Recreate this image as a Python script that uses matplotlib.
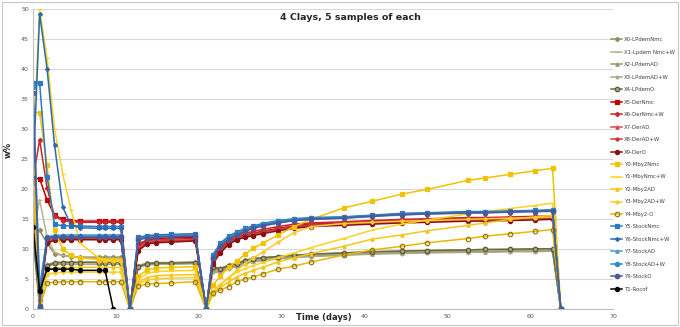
import numpy as np
import matplotlib
matplotlib.use("Agg")
import matplotlib.pyplot as plt
from matplotlib.patches import Rectangle

# sampling times (days); zeros mark the re-wetting steps
days_a = [0, 0.8, 1.7, 2.6, 3.6, 4.6, 5.7, 8.0, 8.7, 9.7, 10.6, 11.7]
days_b = [12.7, 13.8, 14.9, 16.6, 19.6, 20.9]
days_c = [21.7, 22.6, 23.6, 24.6, 25.6, 26.6, 27.7, 29.6, 31.5, 33.6, 37.5,
          40.9, 44.5, 47.6, 52.5, 54.6, 57.6, 60.6, 62.7, 63.7]
days = days_a + days_b + days_c

# --- LPdem (olive) ---
x0 = [13.2, 13.2, 11.0, 9.3, 9.0, 8.8, 8.7, 8.7, 8.7, 8.7, 8.7, 0,
      7.3, 7.7, 7.8, 7.8, 7.9, 0,
      7.1, 6.8, 7.4, 7.7, 8.2, 8.5, 8.6, 8.8, 9.0, 9.2, 9.4, 9.6, 9.7, 9.8, 9.9, 9.9, 10.0, 10.0, 10.1, 0]
x1 = [12.4, 18.3, 12.0, 9.5, 9.0, 8.8, 8.6, 8.5, 8.5, 8.5, 8.5, 0,
      7.2, 7.6, 7.7, 7.7, 7.8, 0,
      6.8, 6.5, 7.2, 7.5, 8.0, 8.3, 8.5, 8.7, 8.9, 9.1, 9.2, 9.4, 9.5, 9.6, 9.7, 9.7, 9.8, 9.8, 9.9, 0]
x2 = [13.0, 1.0, 7.5, 7.8, 7.9, 7.9, 7.9, 7.9, 7.9, 7.9, 7.9, 0,
      7.1, 7.5, 7.6, 7.6, 7.7, 0,
      6.5, 6.3, 7.0, 7.3, 7.8, 8.1, 8.3, 8.5, 8.7, 8.9, 9.1, 9.3, 9.4, 9.5, 9.6, 9.6, 9.7, 9.7, 9.8, 0]
x3 = [12.8, 0.8, 7.2, 7.5, 7.5, 7.5, 7.5, 7.5, 7.5, 7.5, 7.5, 0,
      7.0, 7.4, 7.5, 7.5, 7.6, 0,
      6.3, 6.1, 6.8, 7.1, 7.6, 7.9, 8.1, 8.4, 8.6, 8.8, 9.0, 9.2, 9.3, 9.4, 9.5, 9.5, 9.6, 9.6, 9.7, 0]
x4 = [12.2, 0.3, 7.3, 7.7, 7.8, 7.8, 7.8, 7.8, 7.8, 7.8, 7.8, 0,
      7.1, 7.6, 7.7, 7.7, 7.8, 0,
      7.0, 6.7, 7.3, 7.6, 8.1, 8.4, 8.6, 8.8, 9.0, 9.2, 9.4, 9.6, 9.7, 9.8, 9.9, 10.0, 10.0, 10.1, 10.1, 0]
# --- Der (red) ---
x5 = [21.8, 21.8, 18.2, 15.7, 15.0, 14.8, 14.7, 14.7, 14.7, 14.7, 14.7, 0,
      10.8, 11.6, 11.8, 11.9, 12.0, 0,
      8.2, 9.9, 11.3, 12.0, 12.4, 12.7, 13.0, 13.5, 13.9, 14.2, 14.4, 14.6, 14.8, 14.9, 15.1, 15.1, 15.2, 15.3, 15.4, 0]
x6 = [21.5, 28.3, 20.2, 15.5, 14.8, 14.6, 14.5, 14.5, 14.5, 14.5, 14.5, 0,
      10.5, 11.4, 11.6, 11.7, 11.8, 0,
      8.5, 10.2, 11.6, 12.3, 12.7, 13.0, 13.3, 13.8, 14.2, 14.4, 14.6, 14.8, 15.0, 15.1, 15.3, 15.3, 15.4, 15.5, 15.6, 0]
x7 = [22.0, 2.5, 11.5, 11.9, 12.0, 12.0, 12.0, 12.0, 12.0, 12.0, 12.0, 0,
      10.2, 11.2, 11.5, 11.5, 11.6, 0,
      7.8, 9.6, 11.0, 11.8, 12.2, 12.5, 12.8, 13.3, 13.7, 14.0, 14.2, 14.4, 14.6, 14.7, 14.9, 14.9, 15.0, 15.1, 15.2, 0]
x8 = [21.2, 2.0, 11.3, 11.7, 11.8, 11.8, 11.8, 11.8, 11.8, 11.8, 11.8, 0,
      10.0, 11.0, 11.3, 11.4, 11.5, 0,
      8.0, 9.8, 11.1, 11.9, 12.3, 12.6, 12.9, 13.4, 13.8, 14.1, 14.3, 14.5, 14.7, 14.8, 15.0, 15.0, 15.1, 15.2, 15.3, 0]
x9 = [21.0, 1.5, 11.0, 11.5, 11.6, 11.6, 11.6, 11.6, 11.6, 11.6, 11.6, 0,
      9.8, 10.9, 11.1, 11.2, 11.4, 0,
      7.6, 9.4, 10.8, 11.6, 12.0, 12.3, 12.6, 13.1, 13.5, 13.8, 14.0, 14.2, 14.4, 14.5, 14.7, 14.7, 14.8, 14.9, 15.0, 0]
# --- Mby (yellow) ---
y0 = [32.8, 32.8, 24.0, 13.2, 10.0, 9.0, 8.6, 8.3, 8.2, 8.2, 8.2, 0,
      5.5, 6.6, 6.9, 7.0, 7.1, 0,
      4.0, 5.5, 7.0, 8.0, 9.2, 10.2, 11.0, 12.4, 13.8, 15.0, 16.9, 18.0, 19.2, 20.0, 21.5, 21.9, 22.5, 23.1, 23.5, 0]
y1 = [26.3, 50.0, 41.9, 30.1, 22.5, 16.5, 11.0, 8.5, 8.2, 8.0, 8.0, 0,
      5.0, 6.0, 6.3, 6.4, 6.5, 0,
      3.0, 4.2, 5.3, 6.2, 6.8, 7.3, 7.8, 8.6, 9.4, 10.3, 11.8, 13.2, 14.2, 14.9, 15.9, 16.3, 16.8, 17.3, 17.7, 0]
y2 = [31.1, 1.5, 6.6, 6.9, 7.0, 7.0, 7.0, 7.0, 7.0, 7.0, 7.0, 0,
      4.5, 5.3, 5.6, 5.7, 5.8, 0,
      2.5, 3.6, 4.6, 5.4, 6.0, 6.5, 7.0, 7.9, 8.6, 9.3, 10.5, 11.7, 12.4, 13.1, 14.0, 14.4, 15.0, 15.4, 15.7, 0]
y3 = [22.5, 1.0, 5.8, 6.1, 6.2, 6.2, 6.2, 6.2, 6.2, 6.2, 6.2, 0,
      4.2, 4.9, 5.1, 5.2, 5.3, 0,
      2.8, 4.0, 5.3, 6.5, 7.6, 8.6, 9.5, 11.2, 12.8, 13.8, 14.3, 14.5, 14.7, 14.8, 15.0, 15.1, 15.2, 15.3, 15.4, 0]
y4 = [21.0, 0.2, 4.4, 4.5, 4.6, 4.6, 4.6, 4.6, 4.6, 4.6, 4.6, 0,
      3.9, 4.2, 4.3, 4.4, 4.6, 0,
      2.7, 3.2, 3.8, 4.6, 5.05, 5.4, 5.9, 6.7, 7.2, 7.9, 9.05, 9.9, 10.5, 11.1, 11.8, 12.2, 12.6, 13.0, 13.3, 0]
# --- Stock (blue) ---
y5 = [37.8, 37.8, 22.1, 14.2, 13.9, 13.9, 13.9, 13.8, 13.8, 13.8, 13.8, 0,
      12.0, 12.3, 12.4, 12.5, 12.6, 0,
      9.1, 11.0, 12.2, 12.9, 13.5, 13.9, 14.3, 14.8, 15.1, 15.3, 15.4, 15.7, 16.0, 16.1, 16.3, 16.3, 16.4, 16.5, 16.6, 0]
y6 = [22.0, 49.2, 40.1, 27.4, 17.0, 14.0, 13.6, 13.5, 13.5, 13.5, 13.5, 0,
      11.9, 12.2, 12.3, 12.4, 12.5, 0,
      8.8, 10.8, 12.0, 12.7, 13.3, 13.7, 14.1, 14.6, 14.9, 15.1, 15.3, 15.6, 15.8, 16.0, 16.2, 16.2, 16.3, 16.4, 16.4, 0]
y7 = [37.5, 3.8, 12.0, 12.3, 12.4, 12.4, 12.4, 12.4, 12.4, 12.4, 12.4, 0,
      11.8, 12.1, 12.2, 12.3, 12.4, 0,
      8.6, 10.6, 11.8, 12.5, 13.1, 13.5, 13.9, 14.4, 14.8, 15.0, 15.2, 15.5, 15.7, 15.9, 16.0, 16.1, 16.2, 16.3, 16.3, 0]
y8 = [37.0, 3.0, 12.1, 12.2, 12.2, 12.2, 12.2, 12.2, 12.2, 12.2, 12.2, 0,
      11.7, 12.0, 12.1, 12.2, 12.3, 0,
      8.9, 10.9, 12.1, 12.8, 13.4, 13.8, 14.2, 14.7, 15.0, 15.2, 15.4, 15.6, 15.9, 16.0, 16.2, 16.2, 16.3, 16.4, 16.5, 0]
y9 = [36.1, 0.5, 11.9, 12.0, 12.0, 12.0, 12.0, 12.0, 12.0, 12.0, 12.0, 0,
      11.6, 11.9, 12.0, 12.1, 12.2, 0,
      8.5, 10.5, 11.7, 12.4, 13.0, 13.5, 13.9, 14.4, 14.8, 15.0, 15.2, 15.5, 15.8, 15.9, 16.1, 16.1, 16.2, 16.3, 16.4, 0]
# --- Rocof (black), first period only ---
t1 = [13.8, 3.0, 6.7, 6.7, 6.7, 6.7, 6.5, 6.5, 6.5, 0]

labels = ["X0-LPdemNmc", "X1-Lpdem Nmc+W", "X2-LPdemAD", "X3-LPdemAD+W", "X4-LPdemO",
          "X5-DerNmc", "X6-DerNmc+W", "X7-DerAD", "X8-DerAD+W", "X9-DerO",
          "Y0-Mby2Nmc", "Y1-MbyNmc+W", "Y2-Mby2AD", "Y3-Mby2AD+W", "Y4-Mby2-O",
          "Y5-StockNmc", "Y6-StockNmc+W", "Y7-StockAD", "Y8-StockAD+W", "Y9-StockO",
          "T1-Rocof"]
series = [x0, x1, x2, x3, x4, x5, x6, x7, x8, x9,
          y0, y1, y2, y3, y4, y5, y6, y7, y8, y9, t1]

# (line colour, marker, marker size, marker face, marker edge)
styles = [
    ("#8e8e5c", "D", 2.2, "#8e8e5c", "#8e8e5c"),
    ("#b8b48a", "_", 3.0, "#b8b48a", "#b8b48a"),
    ("#9c9a64", "^", 2.4, "#9c9a64", "#9c9a64"),
    ("#a9a88c", "o", 2.0, "#a9a88c", "#a9a88c"),
    ("#6e6c44", "o", 3.2, "#a8a47a", "#5a5836"),
    ("#c00000", "s", 3.2, "#c00000", "#c00000"),
    ("#c8282d", "D", 2.2, "#c8282d", "#c8282d"),
    ("#dc4848", "^", 2.4, "#dc4848", "#dc4848"),
    ("#c83a3a", "o", 2.2, "#c83a3a", "#c83a3a"),
    ("#8b1010", "o", 3.0, "#8b1010", "#8b1010"),
    ("#f2c200", "s", 3.0, "#f2c200", "#f2c200"),
    ("#ffd21f", "_", 3.0, "#ffd21f", "#ffd21f"),
    ("#f5c61a", "^", 2.4, "#f5c61a", "#f5c61a"),
    ("#f7cc30", "o", 2.2, "#f7cc30", "#f7cc30"),
    ("#e8b800", "o", 3.2, "none", "#9a7a10"),
    ("#2e78c0", "s", 3.2, "#2e78c0", "#2e78c0"),
    ("#2a6aae", "D", 2.0, "#2a6aae", "#2a6aae"),
    ("#4f94d0", "^", 2.4, "#4f94d0", "#4f94d0"),
    ("#2f88c4", "o", 3.0, "#2f88c4", "#2f88c4"),
    ("#4a5a98", "o", 3.2, "#4a5a98", "#4a5a98"),
    ("#000000", "o", 3.0, "#000000", "#000000"),
]

fig = plt.figure(figsize=(6.8, 3.27), dpi=100)
ax = fig.add_axes([0.0485, 0.054, 0.853, 0.9175])

for vals, lab, (col, mk, ms, mfc, mec) in zip(series, labels, styles):
    ax.plot(days[:len(vals)], vals, color=col, lw=1.1, marker=mk, ms=ms,
            mfc=mfc, mec=mec, mew=0.9, label=lab)

ax.set_xlim(0, 70)
ax.set_ylim(0, 50)
ax.set_xticks(range(0, 71, 10))
ax.set_yticks(range(0, 51, 5))
ax.tick_params(labelsize=4.5, colors="#595959", length=0, pad=3)
ax.grid(axis="y", color="#d9d9d9", lw=0.8)
ax.set_axisbelow(True)
for side in ["top", "right"]:
    ax.spines[side].set_visible(False)
for side in ["left", "bottom"]:
    ax.spines[side].set_color("#bfbfbf")
    ax.spines[side].set_linewidth(0.8)

fig.text(0.515, 0.948, "4 Clays, 5 samples of each", fontsize=6.8,
         fontweight="bold", ha="center", va="center", color="#262626")
fig.text(0.476, 0.028, "Time (days)", fontsize=6, fontweight="bold",
         ha="center", va="center", color="#262626")
fig.text(0.012, 0.54, "w%", fontsize=6, fontweight="bold", rotation=90,
         ha="center", va="center", color="#262626")

leg = fig.legend(loc="center left", bbox_to_anchor=(0.895, 0.497), frameon=False,
                 fontsize=3.9, handlelength=2.0, handletextpad=0.4,
                 labelspacing=1.38, borderpad=0)
for txt in leg.get_texts():
    txt.set_color("#404040")

fig.patches.append(Rectangle((0.003, 0.005), 0.994, 0.99, transform=fig.transFigure,
                             fill=False, edgecolor="#c8c8c8", lw=0.8))

fig.savefig("out.png", dpi=100)
